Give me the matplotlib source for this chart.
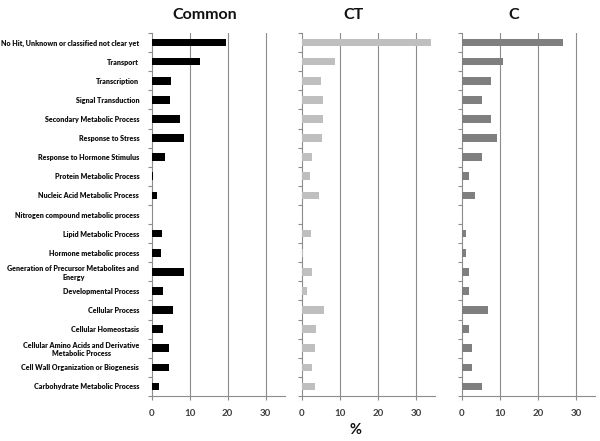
import matplotlib
matplotlib.use("Agg")
import matplotlib.pyplot as plt
import numpy as np

categories = [
    "No Hit, Unknown or classified not clear yet",
    "Transport",
    "Transcription",
    "Signal Transduction",
    "Secondary Metabolic Process",
    "Response to Stress",
    "Response to Hormone Stimulus",
    "Protein Metabolic Process",
    "Nucleic Acid Metabolic Process",
    "Nitrogen compound metabolic process",
    "Lipid Metabolic Process",
    "Hormone metabolic process",
    "Generation of Precursor Metabolites and\nEnergy",
    "Developmental Process",
    "Cellular Process",
    "Cellular Homeostasis",
    "Cellular Amino Acids and Derivative\nMetabolic Process",
    "Cell Wall Organization or Biogenesis",
    "Carbohydrate Metabolic Process",
]

common = [19.5, 12.6, 5.1, 4.9, 7.4, 8.4, 3.5, 0.3, 1.5, 0.1, 2.6, 2.5, 8.4, 2.9, 5.6, 3.1, 4.5, 4.5, 2.0]
ct = [33.9, 8.6, 5.1, 5.4, 5.6, 5.3, 2.7, 2.2, 4.6, 0.0, 2.3, 0.35, 2.6, 1.4, 5.9, 3.8, 3.3, 2.6, 3.3]
c = [26.7, 10.9, 7.7, 5.2, 7.7, 9.3, 5.2, 1.9, 3.5, 0.0, 1.05, 1.05, 1.9, 1.9, 6.8, 1.9, 2.7, 2.7, 5.2]

panel_titles = ["Common", "CT", "C"]
panel_values = [common, ct, c]
panel_colors = ["#000000", "#BFBFBF", "#7F7F7F"]
xticks = [0, 10, 20, 30]
xlabel = "%"

plt.rcParams['font.family'] = ['Lato', 'DejaVu Sans']

W, H = 600, 441
fig = plt.figure(figsize=(W / 100, H / 100), dpi=100)

lefts = [151.7, 302.0, 462.0]
ax_w = 133.0
top_px, bot_px = 33.0, 396.0
title_x = [205, 353, 514]
grid_col = "#8C8C8C"

y = np.arange(len(categories))
for i, (title, vals, col) in enumerate(zip(panel_titles, panel_values, panel_colors)):
    ax = fig.add_axes([lefts[i] / W, (H - bot_px) / H, ax_w / W, (bot_px - top_px) / H])
    ax.barh(y, vals, height=0.4, color=col, zorder=3)
    ax.set_xlim(0, 35)
    ax.set_ylim(len(categories) - 0.5, -0.5)
    ax.set_xticks(xticks)
    ax.set_xticklabels([str(t) for t in xticks], fontsize=7, fontweight='bold', color="#404040")
    ax.tick_params(axis='x', length=3, color=grid_col, width=0.8, pad=6)
    ax.set_yticks(np.arange(len(categories) + 1) - 0.5)
    ax.set_yticklabels([])
    ax.tick_params(axis='y', which='major', length=3, color=grid_col, width=0.8)
    if i == 0:
        ax.set_yticks(y, minor=True)
        ax.set_yticklabels(categories, minor=True, fontsize=5.1, fontweight='heavy',
                           color="#111111", multialignment='center')
        ax.tick_params(axis='y', which='minor', length=0, pad=9)
    for s in ['top', 'right']:
        ax.spines[s].set_visible(False)
    for s in ['left', 'bottom']:
        ax.spines[s].set_color(grid_col)
        ax.spines[s].set_linewidth(0.8)
    for t in xticks[1:]:
        ax.axvline(t, color=grid_col, linewidth=0.8, zorder=1)
    ax.set_facecolor('white')
    fig.text(title_x[i] / W, 1 - 15 / H, title, ha='center', va='center',
             fontsize=11.5, fontweight='bold', color="#111111")

fig.text(356 / W, 1 - 430 / H, xlabel, ha='center', va='center',
         fontsize=10.5, fontweight='bold', color="#111111")

fig.savefig("out.png", dpi=100, facecolor='white')
